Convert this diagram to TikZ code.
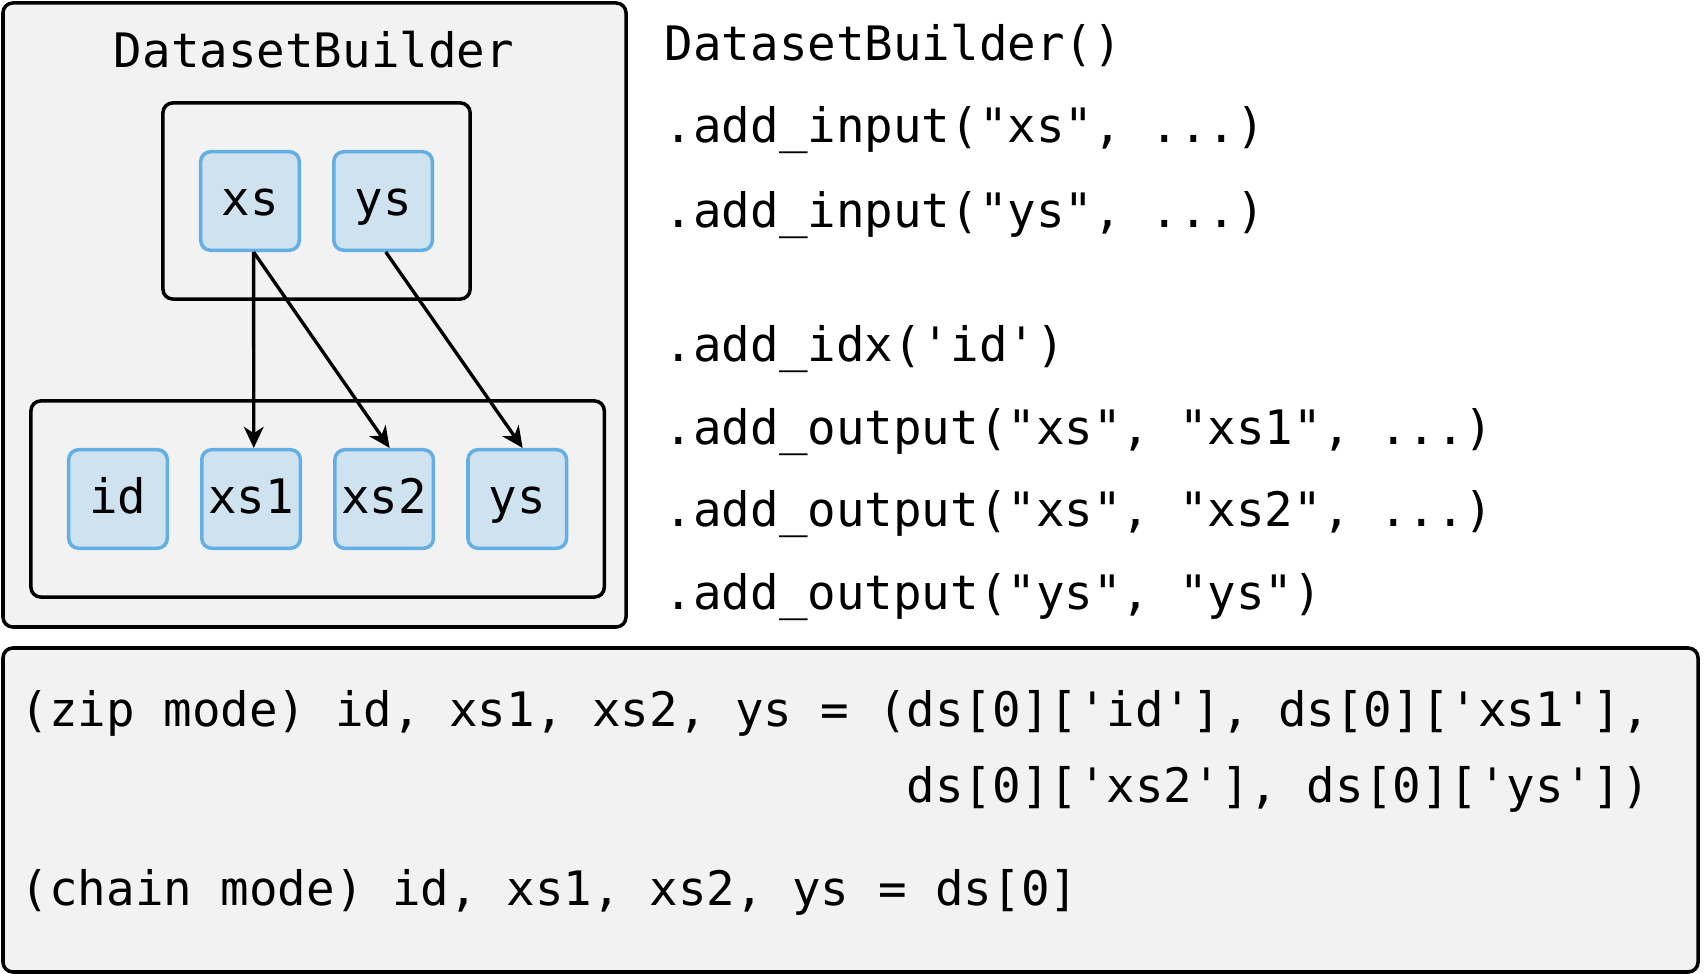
\documentclass[tikz,border=0pt]{standalone}
\usepackage{fontspec}
\setmonofont{DejaVu Sans Mono}
\usetikzlibrary{positioning,fit,calc}
\usetikzlibrary{arrows.meta}

\definecolor{panelgray}{RGB}{242,242,242}
\definecolor{cellfill}{RGB}{207,226,240}
\definecolor{celldraw}{RGB}{99,174,226}

\begin{document}
\begin{tikzpicture}[x=0.01cm,y=-0.01cm,>={Stealth[length=6pt,width=5.6pt,inset=1.8pt]},
                font=\ttfamily\fontsize{13.5}{16}\selectfont,
                panel/.style={draw=black,fill=panelgray,line width=1pt,rounded corners=2.8pt},
                group/.style={draw=black,line width=1pt,rounded corners=2.8pt,inner xsep=0.36cm,inner ysep=0.47cm},
                cell/.style={draw=celldraw,fill=cellfill,line width=1pt,rounded corners=2.8pt,
                             minimum size=0.985cm,inner sep=0pt,text height=1.9ex,text depth=0pt},
                code/.style={anchor=base west,inner sep=0pt},
                link/.style={->,line width=0.95pt}]

\useasboundingbox (0,0) rectangle (1704,974);

\draw[panel] (3,3) rectangle (626,627);
\node[anchor=base] (title) at (314,68) {DatasetBuilder};

\node[cell] (xs)                    at (250,201) {xs};
\node[cell] (ys) [right=0.31cm of xs]            {ys};

\node[cell] (id)                     at (118,499) {id};
\node[cell] (xs1) [right=0.31cm of id]            {xs1};
\node[cell] (xs2) [right=0.31cm of xs1]           {xs2};
\node[cell] (yso) [right=0.31cm of xs2]           {ys};

\node[group,fit=(xs)(ys)]   (inputs)  {};
\node[group,fit=(id)(yso)]  (outputs) {};

\draw[link] (xs.-86) -- (xs1.87);
\draw[link] (xs.-86) -- (xs2.84);
\draw[link] (ys.-87) -- (yso.84);

\node[code] (c1) at (664,61)  {DatasetBuilder()};
\node[code] (c2) at (664,143) {.add\_input("xs", ...)};
\node[code] (c3) at (664,228) {.add\_input("ys", ...)};
\node[code] (c4) at (664,362) {.add\_idx('id')};
\node[code] (c5) at (664,445) {.add\_output("xs", "xs1", ...)};
\node[code] (c6) at (664,527) {.add\_output("xs", "xs2", ...)};
\node[code] (c7) at (664,610) {.add\_output("ys", "ys")};

\draw[panel] (3,648) rectangle (1698,972);
\node[code] (zip1)  at (20,727) {(zip mode) id, xs1, xs2, ys = (ds[0]['id'], ds[0]['xs1'],};
\node[code] (zip2)  at (20,803) {\phantom{(zip mode) id, xs1, xs2, ys = (}ds[0]['xs2'], ds[0]['ys'])};
\node[code] (chain) at (20,906) {(chain mode) id, xs1, xs2, ys = ds[0]};
\end{tikzpicture}
\end{document}
